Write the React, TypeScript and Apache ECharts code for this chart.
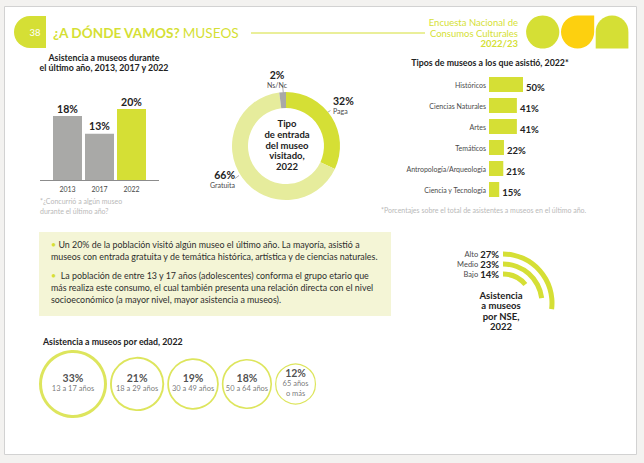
import React, { useEffect, useRef } from "react";
import * as echarts from "echarts";

const YELLOW = "#d5df35";
const PALE = "#e6ec9c";
const GRAY = "#a9a9a7";
const GOLD = "#fdd00f";
const DARK = "#222222";
const MID = "#4a4a4a";
const LIGHT = "#b9b9b9";
const FONT = "Lato, 'Noto Sans', sans-serif";

// Asistencia a museos durante el último año
const yearCategories = ["2013", "2017", "2022"];
const yearValues = [18, 13, 20];

// Tipo de entrada del museo visitado, 2022
const entryNames = ["Paga", "Gratuita", "Ns/Nc"];
const entryValues = [32, 66, 2];

// Tipos de museos a los que asistió, 2022
const museumTypes = [
  "Históricos",
  "Ciencias Naturales",
  "Artes",
  "Temáticos",
  "Antropología/Arqueología",
  "Ciencia y Tecnología",
];
const museumValues = [50, 41, 41, 22, 21, 15];

// Asistencia a museos por NSE, 2022 (inner to outer)
const nseLevels = ["Bajo", "Medio", "Alto"];
const nseValues = [14, 23, 27];

// Asistencia a museos por edad, 2022
const ageGroups = ["13 a 17 años", "18 a 29 años", "30 a 49 años", "50 a 64 años", "65 años\no más"];
const ageValues = [33, 21, 19, 18, 12];

const paragraph1 = [
  "Un 20% de la población visitó algún museo el último año. La mayoría, asistió a",
  "museos con entrada gratuita y de temática histórica, artística y de ciencias naturales.",
];
const paragraph2 = [
  " La población de entre 13 y 17 años (adolescentes) conforma el grupo etario que",
  "más realiza este consumo, el cual también presenta una relación directa con el nivel",
  "socioeconómico (a mayor nivel, mayor asistencia a museos).",
];

function txt(x: number, y: number, text: string, extra: any = {}) {
  return {
    type: "text",
    x,
    y,
    z: 50,
    style: {
      text,
      fontFamily: FONT,
      fontSize: 8,
      fill: MID,
      align: "left",
      verticalAlign: "middle",
      ...extra,
    },
  };
}

export default function App() {
  const ref = useRef<HTMLDivElement>(null);

  useEffect(() => {
    if (!ref.current) return;
    const chart = echarts.init(ref.current, undefined, { renderer: "svg" });

    // bubbles: area proportional to value
    const maxAge = Math.max(...ageValues);
    const R_MAX = 34;
    const GAP = 3;
    const radii = ageValues.map((v) => R_MAX * Math.sqrt(v / maxAge));
    const cxs: number[] = [];
    radii.forEach((r, i) => {
      cxs.push(i === 0 ? 39 + r : cxs[i - 1] + radii[i - 1] + GAP + r);
    });
    const bubbleData = ageValues.map((v, i) => {
      const bw = Math.max(1.2, v / 11);
      return {
        value: [cxs[i], 384],
        name: ageGroups[i],
        pct: v,
        symbolSize: 2 * radii[i] - bw,
        itemStyle: { borderWidth: bw },
      };
    });

    const PFS = 8.9;
    const entryLabel = (i: number) => `{v|${entryValues[i]}%}\n{n|${entryNames[i]}}`;
    const entryRich = {
      v: { fontFamily: FONT, fontSize: 10.5, fontWeight: "bold", fill: DARK, color: DARK, lineHeight: 11 },
      n: { fontFamily: FONT, fontSize: 7, fill: MID, color: MID, lineHeight: 9 },
    };
    const nseRich = {
      n: { fontFamily: FONT, fontSize: 7.5, color: MID, fill: MID },
      v: { fontFamily: FONT, fontSize: 9.5, fontWeight: "bold", color: DARK, fill: DARK },
    };
    const bulletRich = { d: { fill: YELLOW, color: YELLOW, fontSize: PFS, fontFamily: FONT } };
    const nseY = [274, 264, 254];

    const graphic: any[] = [
      { type: "rect", z: 0, shape: { x: 4.5, y: 6.5, width: 632, height: 448 }, style: { fill: "#ffffff", stroke: "#d2d2d2", lineWidth: 1 } },
      // header
      { type: "rect", z: 1, shape: { x: 14, y: 16, width: 32, height: 32, r: [16, 0, 0, 16] }, style: { fill: YELLOW } },
      txt(35, 32.5, "38", { fill: "#ffffff", fontSize: 9.5, align: "center" }),
      txt(53, 33, "{b|¿A DÓNDE VAMOS?} {r|MUSEOS}", {
        rich: {
          b: { fontFamily: FONT, fontSize: 13.6, fontWeight: "bold", fill: YELLOW, color: YELLOW },
          r: { fontFamily: FONT, fontSize: 13.6, fill: YELLOW, color: YELLOW },
        },
      }),
      { type: "line", z: 1, shape: { x1: 251, y1: 33, x2: 425, y2: 33 }, style: { stroke: YELLOW, lineWidth: 1 } },
      txt(518, 22, "Encuesta Nacional de", { fill: YELLOW, fontSize: 9.5, align: "right" }),
      txt(518, 33, "Consumos Culturales", { fill: YELLOW, fontSize: 9.5, align: "right" }),
      txt(518, 43.5, "2022/23", { fill: YELLOW, fontSize: 9.5, fontWeight: "bold", align: "right" }),
      { type: "circle", z: 1, shape: { cx: 542.7, cy: 32, r: 16.6 }, style: { fill: YELLOW } },
      { type: "rect", z: 1, shape: { x: 561, y: 15.4, width: 33.2, height: 33.2, r: [16.6, 0, 16.6, 16.6] }, style: { fill: GOLD } },
      { type: "rect", z: 1, shape: { x: 595.7, y: 15.4, width: 32.7, height: 33.2, r: [16.35, 16.35, 0, 0] }, style: { fill: YELLOW } },

      // bar chart 1
      txt(104, 62.5, "Asistencia a museos durante\nel último año, 2013, 2017 y 2022", {
        align: "center", fontSize: 8.8, fontWeight: "bold", fill: DARK, lineHeight: 10.5,
      }),
      { type: "line", z: 1, shape: { x1: 40, y1: 180.5, x2: 159, y2: 180.5 }, style: { stroke: "#8c8c8c", lineWidth: 1 } },
      txt(40, 201, "*¿Concurrió a algún museo", { fill: LIGHT, fontSize: 7 }),
      txt(40, 210.5, "durante el último año?", { fill: LIGHT, fontSize: 7 }),

      // donut
      txt(287, 145, "Tipo\nde entrada\ndel museo\nvisitado,\n2022", {
        align: "center", fontSize: 9.5, fontWeight: "bold", fill: DARK, lineHeight: 10.7,
      }),
      txt(277, 79, entryLabel(2), { align: "center", rich: entryRich }),
      { type: "line", z: 1, shape: { x1: 282.8, y1: 87.5, x2: 283.3, y2: 93 }, style: { stroke: "#9a9a9a", lineWidth: 0.8 } },
      txt(333, 105, entryLabel(0), { align: "left", rich: entryRich }),
      { type: "line", z: 1, shape: { x1: 326.5, y1: 113, x2: 330.5, y2: 110.5 }, style: { stroke: "#9a9a9a", lineWidth: 0.8 } },
      txt(235, 179, entryLabel(1), { align: "right", rich: entryRich }),
      { type: "line", z: 1, shape: { x1: 235, y1: 178.5, x2: 239, y2: 175.5 }, style: { stroke: "#9a9a9a", lineWidth: 0.8 } },

      // types
      txt(490, 62.5, "Tipos de museos a los que asistió, 2022*", {
        align: "center", fontSize: 8.8, fontWeight: "bold", fill: DARK,
      }),
      txt(381, 209.5, "*Porcentajes sobre el total de asistentes a museos en el último año.", { fill: LIGHT, fontSize: 7 }),

      // text box
      { type: "rect", z: 0, shape: { x: 39, y: 232, width: 352, height: 84 }, style: { fill: "#f4f5d6" } },
      txt(51, 244, "{d|•} " + paragraph1[0], { rich: bulletRich, fontSize: PFS, fill: "#2d2d2d" }),
      txt(51, 256, paragraph1[1], { fontSize: PFS, fill: "#2d2d2d" }),
      txt(51, 275.5, "{d|•} " + paragraph2[0], { rich: bulletRich, fontSize: PFS, fill: "#2d2d2d" }),
      txt(51, 287.5, paragraph2[1], { fontSize: PFS, fill: "#2d2d2d" }),
      txt(51, 299.5, paragraph2[2], { fontSize: PFS, fill: "#2d2d2d" }),

      // NSE
      ...nseLevels.map((lv, i) =>
        txt(499, nseY[i], `{n|${lv}} {v|${nseValues[i]}%}`, { align: "right", rich: nseRich })
      ),
      txt(501, 311, "Asistencia\na museos\npor NSE,\n2022", {
        align: "center", fontSize: 9.5, fontWeight: "bold", fill: DARK, lineHeight: 10.6,
      }),

      // age
      txt(43, 341, "Asistencia a museos por edad, 2022", { fontSize: 8.8, fontWeight: "bold", fill: DARK }),
    ];

    const option: any = {
      animation: false,
      backgroundColor: "#f3f2f0",
      textStyle: { fontFamily: FONT },
      graphic: { elements: graphic },
      polar: { center: [503, 303], radius: [24, 54] },
      angleAxis: {
        max: 100,
        startAngle: 90,
        clockwise: true,
        axisLine: { show: false },
        axisTick: { show: false },
        axisLabel: { show: false },
        splitLine: { show: false },
      },
      radiusAxis: {
        type: "category",
        data: nseLevels,
        axisLine: { show: false },
        axisTick: { show: false },
        axisLabel: { show: false },
        splitLine: { show: false },
      },
      grid: [
        { left: 51.5, top: 91.25, width: 96, height: 88.75 },
        { left: 489, top: 74, width: 68, height: 126 },
        { left: 0, top: 0, width: 644, height: 463 },
      ],
      xAxis: [
        {
          gridIndex: 0,
          type: "category",
          data: yearCategories,
          axisLine: { show: false },
          axisTick: { show: false },
          axisLabel: { fontSize: 7, color: MID, margin: 5, fontFamily: FONT },
        },
        { gridIndex: 1, type: "value", min: 0, max: 100, show: false },
        { gridIndex: 2, type: "value", min: 0, max: 644, show: false },
      ],
      yAxis: [
        { gridIndex: 0, type: "value", min: 0, max: 25, show: false },
        {
          gridIndex: 1,
          type: "category",
          data: museumTypes,
          inverse: true,
          axisLine: { show: false },
          axisTick: { show: false },
          axisLabel: { fontSize: 7, color: MID, margin: 3, fontFamily: FONT },
        },
        { gridIndex: 2, type: "value", min: 0, max: 463, inverse: true, show: false },
      ],
      series: [
        {
          type: "bar",
          xAxisIndex: 0,
          yAxisIndex: 0,
          barWidth: 29,
          data: yearValues.map((v, i) => ({
            value: v,
            itemStyle: { color: i === yearValues.length - 1 ? YELLOW : GRAY },
          })),
          label: {
            show: true,
            position: "top",
            distance: 2,
            formatter: "{c}%",
            fontSize: 10.5,
            fontWeight: "bold",
            color: DARK,
            fontFamily: FONT,
          },
        },
        {
          type: "pie",
          center: [286, 146],
          radius: [38, 54],
          startAngle: 90,
          clockwise: true,
          label: { show: false },
          labelLine: { show: false },
          emphasis: { disabled: true },
          data: entryValues.map((v, i) => ({
            value: v,
            name: entryNames[i],
            itemStyle: { color: [YELLOW, PALE, GRAY][i] },
          })),
        },
        {
          type: "bar",
          xAxisIndex: 1,
          yAxisIndex: 1,
          barWidth: 15,
          itemStyle: { color: YELLOW },
          data: museumValues,
          label: {
            show: true,
            position: "right",
            offset: [0, 3],
            distance: 3,
            formatter: "{c}%",
            fontSize: 9.5,
            fontWeight: "bold",
            color: DARK,
            fontFamily: FONT,
          },
        },
        {
          type: "bar",
          coordinateSystem: "polar",
          barWidth: 5,
          itemStyle: { color: YELLOW },
          data: nseValues,
        },
        {
          type: "scatter",
          xAxisIndex: 2,
          yAxisIndex: 2,
          symbol: "circle",
          itemStyle: { color: "#ffffff", borderColor: YELLOW },
          data: bubbleData,
          label: {
            show: true,
            position: "inside",
            offset: [0, -1.5],
            formatter: (p: any) =>
              `{v|${p.data.pct}%}\n` +
              String(p.data.name)
                .split("\n")
                .map((s: string) => `{n|${s}}`)
                .join("\n"),
            rich: {
              v: { fontFamily: FONT, fontSize: 10.5, fontWeight: "bold", color: DARK, lineHeight: 12 },
              n: { fontFamily: FONT, fontSize: 7.5, color: "#555555", lineHeight: 9.5 },
            },
          },
        },
      ],
    };

    chart.setOption(option);
    return () => chart.dispose();
  }, []);

  return (
    <div
      ref={ref}
      style={{ position: "absolute", left: 0, top: 0, width: 644, height: 463 }}
    />
  );
}
